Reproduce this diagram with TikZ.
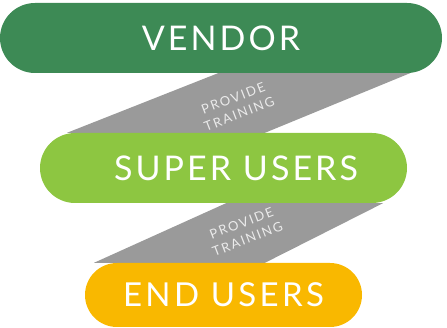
\documentclass[tikz,border=0pt]{standalone}
\usepackage{fontspec}
\setmainfont{Lato}
\usetikzlibrary{calc,backgrounds}
\definecolor{VendorGreen}{HTML}{3D8A55}
\definecolor{SuperGreen}{HTML}{8DC641}
\definecolor{EndYellow}{HTML}{F9B800}
\definecolor{BandGray}{HTML}{9A9A9A}
\definecolor{BandText}{HTML}{EBEBEB}

\tikzset{
	pill/.style={fill=#1, text=white, inner sep=0pt, rounded corners=35pt,
		minimum height=70pt, font=\addfontfeatures{LetterSpace=9}\fontsize{34}{34}\selectfont},
	bandlabel/.style={text=BandText, rotate=21, align=center, inner sep=0pt,
		font=\addfontfeatures{LetterSpace=14}\fontsize{13}{17}\selectfont},
}

\begin{document}
\begin{tikzpicture}[x=1pt,y=-1pt]
	\useasboundingbox (0,0) rectangle (447,328);
	
	\node[pill=VendorGreen, minimum width=442pt] (vendor) at (221,38) {VENDOR};
	\node[pill=SuperGreen, minimum width=367pt] (super) at (223.5,168) {\hspace*{25pt}SUPER USERS};
	\node[pill=EndYellow, minimum width=277pt, minimum height=64pt, rounded corners=32pt,
		font=\addfontfeatures{LetterSpace=10}\fontsize{33}{33}\selectfont] (endusers) at (223.5,295) {END USERS};
	
	% training bands behind the pills
	\begin{scope}[on background layer]
		\fill[BandGray] ($(vendor.south)+(-3,0)$) -- ($(vendor.south)+(189,0)$)
			-- ($(super.north)+(41.5,0)$) -- ($(super.north)+(-156.5,0)$) -- cycle;
		\fill[BandGray] ($(super.south)+(2.5,0)$) -- ($(super.south)+(159.5,0)$)
			-- ($(endusers.north)+(41.5,0)$) -- ($(endusers.north)+(-129.5,0)$) -- cycle;
	\end{scope}
	
	\node[bandlabel] (train1) at ($(vendor.south)!0.5!(super.north)+(14,3)$) {PROVIDE\\TRAINING};
	\node[bandlabel] (train2) at ($(super.south)!0.5!(endusers.north)+(21,-2)$) {PROVIDE\\TRAINING};
\end{tikzpicture}
\end{document}
